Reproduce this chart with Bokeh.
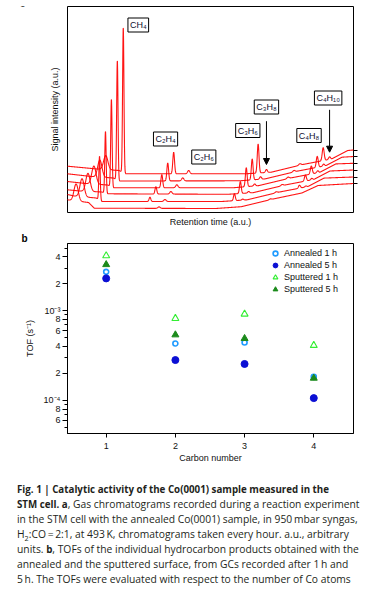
import numpy as np
from bokeh.plotting import figure
from bokeh.layouts import column
from bokeh.models import (ColumnDataSource, Label, LabelSet, Arrow, NormalHead,
                          LinearAxis, FixedTicker, Div)
from bokeh.embed import file_html
from bokeh.resources import INLINE

FONT = "Liberation Sans"

# ------------------------------------------------------------------ panel a data
hours = [0, 1, 2, 3, 4, 5]
retention_drift_per_hour = 6.2   # a.u. shift of every hourly chromatogram

# baseline anchor points (retention a.u., signal a.u.) for each hourly chromatogram
baseline_t = [
    [-54, 0, 1, 22, 28, 155, 181.7, 215, 245, 262, 299],
    [-54, 0, 7, 30, 36, 161.2, 187.9, 221.2, 251.2, 268.2, 299],
    [-54, 0, 13, 36, 42, 167.4, 194, 227.4, 257.4, 274.4, 299],
    [-54, 0, 19, 42, 48, 174, 200, 233.6, 263.6, 280.6, 299],
    [-54, 0, 25, 48, 54, 180, 206.5, 240, 270, 287, 299],
    [-54, 0, 31, 54, 60, 186, 213, 246, 276, 293, 299],
]
baseline_s = [
    [13, 13, 12.5, 10, 4.3, 4, 5.8, 13.5, 19.5, 27, 29],
    [18, 18, 16.5, 14.5, 11, 11, 12.7, 20.4, 25.9, 34.4, 35.5],
    [23, 22.7, 21.5, 20.5, 18.7, 18.2, 19.8, 27.5, 33, 41.5, 42.5],
    [31.5, 31, 29, 27.5, 24.7, 24.8, 26.9, 34.6, 40.1, 48.6, 49.2],
    [39.5, 38.7, 36, 34.5, 31.5, 31.7, 33.6, 41.3, 46.8, 55.3, 56],
    [47, 46.3, 43.5, 42, 38.7, 38.7, 40.3, 48, 53.5, 62, 62.5],
]

peak_names = ["air", "CH4", "C2H4", "C2H6", "C3H6", "C3H8", "x", "C4H8", "C4H10"]
peak_t_5h = [40, 58.3, 111, 126.7, 199.3, 208, 243, 267.3, 274]
peak_sigma = [2.2, 0.7, 0.9, 1.2, 0.9, 1.0, 1.2, 1.0, 1.0]
peak_heights = [                       # per hour 0..5
    [17, 18, 18, 18, 17, 14],          # air / CO
    [0, 44, 62, 88, 120, 146],         # CH4
    [0, 4.3, 7.3, 13.3, 18, 21.6],     # C2H4
    [1.5, 2, 2.5, 3, 3, 3.3],          # C2H6
    [0, 7, 12, 19, 21, 29],            # C3H6
    [0, 1, 1.5, 2, 2.5, 3],            # C3H8
    [0.8, 1, 1.2, 1.5, 1.5, 1.5],      # unknown
    [0, 3, 6, 8, 11, 13],              # C4H8
    [0, 1, 1.5, 2, 2, 2.5],            # C4H10
]

comp_text = ["CH₄", "C₂H₄", "C₂H₆", "C₃H₆", "C₃H₈", "C₄H₈", "C₄H₁₀"]
comp_t = [74, 102.5, 142.5, 188.5, 208, 252.5, 272.5]
comp_s = [187.5, 73.5, 55.5, 82, 105.5, 77, 114.5]

hour_labels = ["0 h", "2 h", "4 h"]

# ------------------------------------------------------------------ panel b data
carbon = [1, 2, 3, 4]
annealed_1h = [2.72e-3, 4.32e-4, 4.43e-4, 1.83e-4]
annealed_5h = [2.30e-3, 2.82e-4, 2.55e-4, 1.06e-4]
sputtered_1h = [4.12e-3, 8.22e-4, 9.19e-4, 4.11e-4]
sputtered_5h = [3.28e-3, 5.39e-4, 4.91e-4, 1.77e-4]

tof_limits = [4.27e-5, 5.64e-3]
tof_major = [6e-5, 8e-5, 1e-4, 2e-4, 4e-4, 6e-4, 8e-4, 1e-3, 2e-3, 4e-3]
tof_major_labels = ["6", "8", "10⁻⁴", "2", "4", "6", "8", "10⁻³", "2", "4"]
tof_minor = [5e-5, 7e-5, 9e-5, 3e-4, 5e-4, 7e-4, 9e-4, 3e-3, 5e-3]

BOLD = "<b style='font-size:9.75px'>"
caption_lines = [
    BOLD + "Fig. 1 | Catalytic activity of the Co(0001) sample measured in the</b>",
    BOLD + "STM cell. a</b>, Gas chromatograms recorded during a reaction experiment",
    "in the STM cell with the annealed Co(0001) sample, in 950\u2009mbar syngas,",
    "H<sub style='font-size:70%;line-height:0'>2</sub>:CO\u2009=\u20092:1, at 493\u2009K, chromatograms taken every hour. a.u., arbitrary",
    "units. " + BOLD + "b</b>, TOFs of the individual hydrocarbon products obtained with the",
    "annealed and the sputtered surface, from GCs recorded after 1\u2009h and",
    "5\u2009h. The TOFs were evaluated with respect to the number of Co atoms",
]

# ------------------------------------------------------------------ panel letter a (strip above panel a)
letter_a = Div(text="<div style=\"font-family:'Liberation Sans',sans-serif;font-weight:bold;"
                    "font-size:10px;line-height:6px;padding-left:20px;margin:0;\">a</div>",
               width=370, height=6, margin=0, styles={"overflow": "visible"})

# ------------------------------------------------------------------ panel a
pa = figure(width=370, height=224, x_range=(0, 299), y_range=(0, 206),
            output_backend="svg", toolbar_location=None, title=None,
            min_border_left=54, min_border_right=17, min_border_top=0, min_border_bottom=18)
pa.outline_line_color = "black"
pa.outline_line_alpha = 1
pa.outline_line_width = 1
pa.grid.visible = False

for ax, lab, sto in ((pa.xaxis[0], "Retention time (a.u.)", 4), (pa.yaxis[0], "Signal intensity (a.u.)", 8)):
    ax.ticker = FixedTicker(ticks=[])
    ax.major_label_text_font_size = "0px"
    ax.major_tick_out = 0
    ax.major_tick_in = 0
    ax.minor_tick_out = 0
    ax.minor_tick_in = 0
    ax.major_label_standoff = 0
    ax.axis_line_color = None
    ax.axis_label = lab
    ax.axis_label_standoff = sto
    ax.axis_label_text_font = FONT
    ax.axis_label_text_font_size = "9px"
    ax.axis_label_text_font_style = "normal"
    ax.axis_label_text_color = "#111111"

t = np.arange(-54, 300.01, 0.2)
for k, h in enumerate(hours):
    y = np.interp(t, baseline_t[k], baseline_s[k])
    for i in range(len(peak_names)):
        c = peak_t_5h[i] - retention_drift_per_hour * (hours[-1] - h)
        y = y + peak_heights[i][k] * np.exp(-0.5 * ((t - c) / peak_sigma[i]) ** 2)
    pa.line(t, y, line_color="#ff0000", line_width=1.1, line_alpha=0.92)

tick_s = [bs[-1] for bs in baseline_s]
ra = LinearAxis(ticker=FixedTicker(ticks=tick_s))
ra.major_label_text_font_size = "0px"
ra.major_label_standoff = 0
ra.major_tick_out = 4
ra.major_tick_in = 0
ra.minor_tick_out = 0
ra.axis_line_color = None
pa.add_layout(ra, "right")

hsrc = ColumnDataSource(dict(x=[pa.x_range.end] * 3,
                             y=[tick_s[0], tick_s[2], tick_s[4]],
                             text=hour_labels))
pa.add_layout(LabelSet(x="x", y="y", text="text", source=hsrc, x_offset=8,
                       text_baseline="middle", text_font=FONT, text_font_size="9px",
                       text_color="#111111"))

for txt, ct, cs in zip(comp_text, comp_t, comp_s):
    pa.add_layout(Label(x=ct, y=cs, text=txt, text_align="center", text_baseline="middle",
                        text_font=FONT, text_font_size="9px", text_color="#101030",
                        border_line_color="black", border_line_width=1,
                        background_fill_color="white", padding=2))

i3 = peak_names.index("C3H8")
i4 = peak_names.index("C4H10")
for xi, ys, ye in ((peak_t_5h[i3], 91.3, 48), (peak_t_5h[i4], 102.7, 60.3)):
    pa.add_layout(Arrow(x_start=xi, y_start=ys, x_end=xi, y_end=ye, line_width=1,
                        line_color="black",
                        end=NormalHead(size=6, fill_color="black", line_color="black")))

# ------------------------------------------------------------------ panel b (decades on a linear axis of log10 TOF)
lg10 = np.log10
pb = figure(width=370, height=240, x_range=(0.441, 4.574),
            y_range=(float(lg10(tof_limits[0])), float(lg10(tof_limits[1]))),
            output_backend="svg", toolbar_location=None,
            title="b", min_border_left=67, min_border_right=17, min_border_top=11,
            min_border_bottom=37)
pb.title.align = "left"
pb.title.offset = -46
pb.title.standoff = 0
pb.title.text_font = FONT
pb.title.text_font_size = "10px"
pb.title.text_font_style = "bold"
pb.title.text_color = "black"
pb.outline_line_color = "black"
pb.outline_line_alpha = 1
pb.outline_line_width = 1
pb.grid.visible = False

xa = pb.xaxis[0]
xa.ticker = FixedTicker(ticks=carbon)
xa.major_tick_out = 4
xa.major_tick_in = 0
xa.minor_tick_out = 0
xa.major_label_standoff = 5
xa.axis_label = "Carbon number"
xa.axis_label_standoff = 1

major_pos = [float(v) for v in lg10(tof_major)]
minor_pos = [float(v) for v in lg10(tof_minor)]
ya = pb.yaxis[0]
ya.ticker = FixedTicker(ticks=major_pos, minor_ticks=minor_pos)
ya.major_label_overrides = {v: s for v, s in zip(major_pos, tof_major_labels)}
ya.major_tick_out = 5
ya.major_tick_in = 0
ya.minor_tick_out = 3
ya.minor_tick_in = 0
ya.major_label_standoff = 2
ya.axis_label = "TOF (s⁻¹)"
ya.axis_label_standoff = 6

for ax in (xa, ya):
    ax.axis_line_color = "black"
    ax.axis_line_width = 1
    ax.major_tick_line_color = "black"
    ax.major_tick_line_width = 1
    ax.minor_tick_line_color = "black"
    ax.major_label_text_font = FONT
    ax.major_label_text_font_size = "9px"
    ax.major_label_text_color = "#111111"
    ax.axis_label_text_font = FONT
    ax.axis_label_text_font_size = "9px"
    ax.axis_label_text_font_style = "normal"
    ax.axis_label_text_color = "#111111"

pb.scatter(carbon, lg10(annealed_1h), marker="circle", size=5, line_color="#1f9bff",
           fill_color="white", line_width=1.6, legend_label="Annealed 1 h")
pb.scatter(carbon, lg10(annealed_5h), marker="circle", size=7, line_color="#0b0fd4",
           fill_color="#0b0fd4", legend_label="Annealed 5 h")
pb.scatter(carbon, lg10(sputtered_1h), marker="triangle", size=7, line_color="#33ee33",
           fill_color="white", line_width=1.1, legend_label="Sputtered 1 h")
pb.scatter(carbon, lg10(sputtered_5h), marker="triangle", size=7, line_color="#1b8a1b",
           fill_color="#1b8a1b", legend_label="Sputtered 5 h")

lg = pb.legend[0]
lg.location = (202, 138)
lg.glyph_width = 12
lg.glyph_height = 12
lg.label_height = 12
lg.spacing = 0
lg.padding = 0
lg.margin = 0
lg.label_standoff = 3
lg.label_text_font = FONT
lg.label_text_font_size = "9px"
lg.label_text_color = "#111111"
lg.border_line_color = None
lg.background_fill_alpha = 0

# ------------------------------------------------------------------ caption
cap_html = ("<div style=\"font-family:'Open Sans',sans-serif;font-size:10.3px;line-height:15px;"
            "color:#231f20;white-space:nowrap;padding:12px 0 0 17px;margin:0;\">"
            + "<br>".join(caption_lines) + "</div>")
cap = Div(text=cap_html, width=370, height=120, margin=0, styles={"overflow": "hidden"})

layout = column(letter_a, pa, pb, cap, spacing=0)
open("out.html", "w").write(file_html(layout, INLINE))
